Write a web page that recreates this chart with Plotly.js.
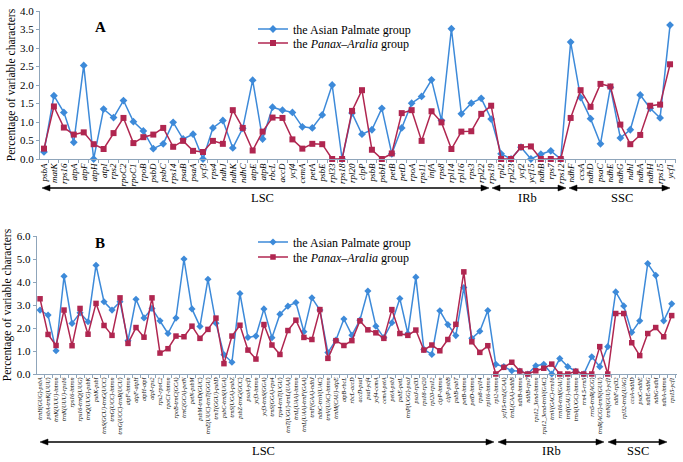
<!DOCTYPE html>
<html>
<head>
<meta charset="utf-8">
<script src="https://cdn.plot.ly/plotly-3.0.1.min.js"></script>
<style>html,body{margin:0;padding:0;background:#fff;}#chart{width:683px;height:462px;}</style>
</head>
<body>
<div id="chart"></div>
<script>
// ---------- Panel A: genes ----------
const catsA = ["psbA","matK","rps16","atpA","atpF","atpH","atpI","rps2","rpoC2","rpoC1","rpoB","psbD","psbC","rps14","psaB","psaA","ycf3","rps4","ndhJ","ndhK","ndhC","atpE","atpB","rbcL","accD","ycf4","cemA","petA","psbE","rpl33","rps18","rpl20","clpP","psbB","psbH","petB","petD","rpoA","rps11","infA","rps8","rpl14","rpl16","rps3","rpl22","rps19","rpl2","rpl23","ycf2","ycf15","ndhB","rps7","rps12","ndhF","ccsA","ndhD","psaC","ndhE","ndhG","ndhI","ndhA","ndhH","rps15","ycf1"];
const asianA = [0.19,1.71,1.26,0.45,2.53,0.00,1.35,1.12,1.58,1.01,0.76,0.28,0.41,0.99,0.54,0.67,0.00,0.84,1.04,0.30,0.83,2.13,0.54,1.40,1.32,1.26,0.87,0.84,1.19,2.00,0.00,1.24,0.67,0.79,1.37,0.14,0.84,1.51,1.69,2.14,1.04,3.52,1.22,1.51,1.64,1.08,0.14,0.00,0.32,0.00,0.13,0.22,0.00,3.16,1.66,1.09,0.41,1.94,0.57,0.79,1.73,1.37,1.11,3.62];
const panaxA = [0.28,1.42,0.85,0.66,0.72,0.40,0.27,0.70,1.11,0.43,0.59,0.66,0.84,0.33,0.49,0.22,0.19,0.49,0.41,1.32,0.84,0.23,0.74,1.12,1.11,0.53,0.28,0.41,0.40,0.00,0.00,1.30,1.86,0.25,0.00,0.15,1.24,1.32,0.49,1.29,0.99,0.27,0.74,0.75,1.22,1.44,0.00,0.00,0.32,0.34,0.00,0.00,0.00,1.11,1.86,1.41,2.03,1.96,0.93,0.40,0.65,1.44,1.47,2.56];

// ---------- Panel B: intergenic / intron regions ----------
const catsB = ["trnH(GUG)-psbA","psbA-trnK(UUU)","trnK(UUU)-intron","trnK(UUU)-rps16","rps16-intron","rps16-trnQ(UUG)","trnQ(UUG)-psbK","psbK-psbI","trnS(GCU)-trnG(UCC)","trnG(UCC)-intron","trnG(UCC)-trnR(UCU)","atpF-intron","atpF-atpH","atpH-atpI","atpI-rps2","rps2-rpoC2","rpoC1-intron","rpoB-trnC(GCA)","trnC(GCA)-petN","petN-psbM","psbM-trnD(GUC)","trnE(UUC)-trnT(GGU)","trnT(GGU)-psbD","psbC-trnS(UGA)","trnS(UGA)-psbZ","psbZ-trnG(GCC)","psaA-ycf3","ycf3-intron","ycf3-trnS(GGA)","trnS(GGA)-rps4","rps4-trnT(UGU)","trnT(UGU)-trnL(UAA)","trnL(UAA)-intron","trnL(UAA)-trnF(GAA)","trnF(GAA)-ndhJ","ndhC-trnV(UAC)","trnV(UAC)-intron","trnM(CAU)-atpE","atpB-rbcL","rbcL-accD","accD-psaI","psaI-ycf4","ycf4-cemA","cemA-petA","petA-psbJ","psbE-petL","trnP(UGG)-psaJ","psaJ-rpl33","rps18-rpl20","rpl20-rps12","clpP-intron","clpP-psbB","psbB-psbT","petB-intron","petD-intron","rps8-rpl14","rpl16-intron","rpl2-intron","ycf15-trnL(CAA)","trnL(CAA)-ndhB","ndhB-intron","ndhB-rps7","rps12_3end-intron","rps12_3end-trnV(GAC)","trnV(GAC)-rrn16","rrn16-trnI(GAU)","trnI(GAU)-intron","trnA(UGC)-intron","rrn4.5-rrn5","rrn5-trnR(ACG)","trnR(ACG)-trnN(GUU)","trnN(GUU)-ycf1","ndhF-rpl32","rpl32-trnL(UAG)","ccsA-ndhD","psaC-ndhE","ndhE-ndhG","ndhG-ndhI","ndhA-intron","rps15-ycf1"];
const asianB = [2.78,2.56,1.01,4.25,2.20,2.66,2.27,4.73,3.14,2.78,3.14,1.45,3.25,2.44,2.85,2.31,1.76,2.43,5.00,2.83,2.07,4.12,2.21,0.84,0.51,3.50,1.59,1.65,2.83,1.58,2.60,2.95,3.11,1.84,3.31,2.78,0.93,1.47,2.39,1.69,2.34,3.61,2.08,1.58,2.23,3.28,1.76,4.21,1.07,0.85,2.75,2.15,1.67,3.76,1.55,1.86,2.76,0.42,0.32,0.14,0.13,0.00,0.36,0.42,0.00,0.67,0.32,0.12,0.00,0.75,0.32,1.19,3.57,2.96,1.81,2.31,4.80,4.29,2.31,3.05];
const panaxB = [3.27,1.72,1.24,2.78,1.23,2.85,1.73,3.07,2.11,1.68,3.31,1.33,2.02,1.60,3.31,0.91,1.10,1.65,1.62,2.08,1.55,1.94,2.43,0.45,1.65,2.12,1.04,0.65,2.15,1.26,0.85,1.89,2.34,1.59,1.50,2.80,0.68,1.45,1.24,1.45,2.31,1.92,1.79,1.55,2.80,1.76,1.68,1.91,1.04,1.26,1.01,1.50,2.16,4.44,1.40,0.94,1.23,0.00,0.29,0.51,0.13,0.00,0.14,0.25,0.43,0.00,0.00,0.12,0.00,0.00,1.19,0.00,2.63,2.63,1.36,0.80,1.76,2.02,1.62,2.54];

const seriesNames = ["the Asian Palmate group", "the <i>Panax\u2013Aralia</i> group"];
const regionNames = ["LSC", "IRb", "SSC"];
const yTicksA = [0,0.5,1,1.5,2,2.5,3,3.5,4];
const yTicksB = [0,1,2,3,4,5,6];

// ---------- styling ----------
const W = 683, H = 462;
const px = x => x / W, py = y => 1 - y / H;
const BLUE = "#3d8ad9", RED = "#b02650", AX = "#8fa5ba";
const SERIF = "Liberation Serif, Times New Roman, serif";

function tr(x, y, name, color, symbol, size, xa, ya, lg) {
  return {x: x, y: y, name: name, type: "scatter", mode: "lines+markers",
    line: {color: color, width: 1.5}, marker: {symbol: symbol, size: size, color: color},
    cliponaxis: false, xaxis: xa, yaxis: ya, legend: lg, hoverinfo: "x+y"};
}
const data = [
  tr(catsA, asianA, seriesNames[0], BLUE, "diamond", 6, "x", "y", "legend"),
  tr(catsA, panaxA, seriesNames[1], RED, "square", 6, "x", "y", "legend3"),
  tr(catsB, asianB, seriesNames[0], BLUE, "diamond", 5.5, "x2", "y2", "legend2"),
  tr(catsB, panaxB, seriesNames[1], RED, "square", 5.5, "x2", "y2", "legend4")
];

function xax(cats, d0, d1, r0, r1, fs, anchor) {
  return {domain: [px(d0), px(d1)], type: "category", categoryarray: cats, categoryorder: "array",
    range: [r0, r1], tickmode: "array", tickvals: cats, ticktext: cats.map(s => "<i>" + s + "</i>"),
    tickangle: -90, tickfont: {family: SERIF, size: fs, color: "#000"},
    showline: true, linecolor: AX, linewidth: 1, ticks: "outside", tickson: "boundaries",
    ticklen: 3, tickcolor: AX, showgrid: false, zeroline: false, anchor: anchor, automargin: false};
}
function yax(t0, t1, rmax, ticks, fs, anchor) {
  return {domain: [py(t0), py(t1)], range: [0, rmax], tickmode: "array", tickvals: ticks, tickformat: ".1f",
    tickfont: {family: SERIF, size: fs, color: "#000"}, showline: true, linecolor: AX, linewidth: 1,
    ticks: "outside", ticklen: 3, tickcolor: AX, showgrid: false, zeroline: false, anchor: anchor, automargin: false,
    title: {text: "Percentage of variable characters", font: {family: SERIF, size: 11.5, color: "#000"}, standoff: 2}};
}

// region arrows (decoration)
const shapes = [];
function arrow(x1, x2, y) {
  shapes.push({type: "line", xref: "paper", yref: "paper", x0: px(x1 + 3), x1: px(x2 - 3), y0: py(y), y1: py(y), line: {color: "#000", width: 1.6}});
  const L = 8, h = 3;
  shapes.push({type: "path", xref: "paper", yref: "paper", fillcolor: "#000", line: {color: "#000", width: 0.5},
    path: `M ${px(x1)},${py(y)} L ${px(x1 + L)},${py(y - h)} L ${px(x1 + L)},${py(y + h)} Z`});
  shapes.push({type: "path", xref: "paper", yref: "paper", fillcolor: "#000", line: {color: "#000", width: 0.5},
    path: `M ${px(x2)},${py(y)} L ${px(x2 - L)},${py(y - h)} L ${px(x2 - L)},${py(y + h)} Z`});
}
arrow(42, 489, 188); arrow(492, 566, 188); arrow(569, 670, 188);
arrow(40, 494, 442); arrow(498, 604, 442); arrow(608, 667, 442);

const annotations = [];
function lab(text, x, y, size) {
  annotations.push({text: text, xref: "paper", yref: "paper", x: px(x), y: py(y), showarrow: false,
    xanchor: "center", yanchor: "middle", font: {family: SERIF, size: size, color: "#000"}});
}
lab("<b>A</b>", 100, 27, 15); lab("<b>B</b>", 100, 243, 15);
lab(regionNames[0], 262, 198, 12.5); lab(regionNames[1], 527, 198, 12.5); lab(regionNames[2], 622, 198, 12.5);
lab(regionNames[0], 263, 451, 12.5); lab(regionNames[1], 551, 451, 12.5); lab(regionNames[2], 638, 451, 12.5);

function leg(yc) {
  return {x: px(253), y: py(yc), xanchor: "left", yanchor: "middle", bgcolor: "rgba(0,0,0,0)", borderwidth: 0,
    font: {family: SERIF, size: 12, color: "#000"}, itemwidth: 30, tracegroupgap: 0};
}

const layout = {
  width: W, height: H, margin: {l: 0, r: 0, t: 0, b: 0}, paper_bgcolor: "#fff", plot_bgcolor: "#fff",
  showlegend: true,
  xaxis: xax(catsA, 40, 676, -0.4, 63.6, 9, "y"),
  yaxis: yax(159, 11, 4, yTicksA, 11, "x"),
  xaxis2: xax(catsB, 36.7, 676.5, -0.42, 79.6, 6, "y2"),
  yaxis2: yax(374, 236, 6, yTicksB, 11, "x2"),
  legend: leg(29),
  legend3: leg(43),
  legend2: leg(242),
  legend4: leg(257),
  shapes: shapes, annotations: annotations
};
Plotly.newPlot("chart", data, layout, {staticPlot: true, displayModeBar: false});
</script>
</body>
</html>
